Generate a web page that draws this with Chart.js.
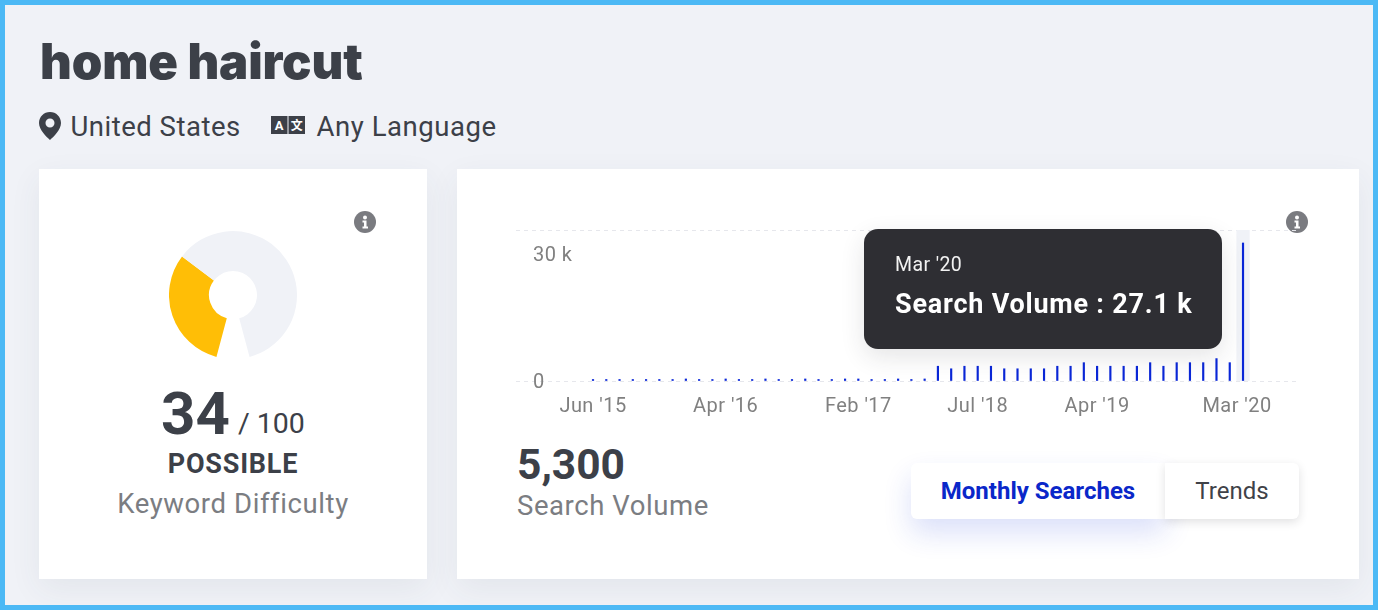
<!DOCTYPE html>
<html>
<head>
<meta charset="utf-8">
<title>home haircut</title>
<script src="https://cdn.jsdelivr.net/npm/chart.js@4"></script>
<style>
  * { box-sizing: border-box; }
  html, body { margin: 0; padding: 0; }
  body { width: 1378px; height: 610px; overflow: hidden; position: relative; background: #f0f2f7; font-family: Roboto, sans-serif; color: #3c4048; }
  .frame { position: absolute; inset: 0; border: 5px solid #4cb9f5; pointer-events: none; z-index: 9; }
  .abs { position: absolute; white-space: nowrap; line-height: 1; }
  .card { position: absolute; top: 169px; height: 410px; background: #fff; box-shadow: 0 10px 30px rgba(60,64,90,.07); }
  #tip { position: absolute; width: 358px; height: 120px; background: #2e2e33; border-radius: 14px; color: #fff; box-shadow: 0 8px 24px rgba(40,40,50,.12); z-index: 3; }
  #tipTitle { position: absolute; left: 31px; top: 26px; font-size: 19.500px; letter-spacing: .4px; line-height: 20px; color: #f2f2f2; }
  #tipBody { position: absolute; left: 31px; top: 60px; font-size: 27px; letter-spacing: .78px; line-height: 30px; font-weight: 700; white-space: nowrap; }
  .btn { position: absolute; top: 463px; height: 56px; background: #fff; text-align: center; line-height: 56px; font-size: 24px; }
</style>
</head>
<body>
<div class="frame"></div>

<div class="abs" style="left:40px;top:35px;font:900 49px/54px Inter,sans-serif;letter-spacing:-.15px;">home haircut</div>

<svg class="abs" style="left:39px;top:112px" width="22" height="28" viewBox="0 0 22 28"><path fill="#3c4048" fill-rule="evenodd" d="M11 0C4.9 0 0 4.9 0 11c0 6.5 7.4 13.8 11 17 3.6-3.2 11-10.500 11-17C22 4.900 17.100 0 11 0zm0 15.500a4.500 4.500 0 1 1 0-9 4.500 4.500 0 0 1 0 9z"/></svg>
<div class="abs" style="left:70.500px;top:113px;font-size:27.500px;letter-spacing:.5px;">United States</div>
<svg class="abs" style="left:271px;top:116px" width="34" height="18" viewBox="0 0 34 18"><rect width="16.500" height="18" fill="#3c4048"/><rect x="17.500" width="16.500" height="18" fill="#3c4048"/><text x="8.200" y="14" font-family="Roboto" font-weight="700" font-size="13" fill="#fff" text-anchor="middle">A</text><text x="25.700" y="14" font-family="Noto Sans CJK SC" font-weight="700" font-size="12" fill="#fff" text-anchor="middle">文</text></svg>
<div class="abs" style="left:316.500px;top:113px;font-size:27.500px;letter-spacing:.55px;">Any Language</div>

<div class="card" style="left:39px;width:388px;"></div>
<div class="card" style="left:457px;width:902px;"></div>

<svg class="abs" style="left:354px;top:211px" width="22" height="22" viewBox="0 0 22 22"><circle cx="11" cy="11" r="11" fill="#7a7b80"/><circle cx="11" cy="6.500" r="2" fill="#fff"/><path fill="#fff" d="M8.500 9.500h4v6h1.500v2H8.500v-2H10v-4H8.500z"/></svg>
<svg class="abs" style="left:1286px;top:211px" width="22" height="22" viewBox="0 0 22 22"><circle cx="11" cy="11" r="11" fill="#7a7b80"/><circle cx="11" cy="6.500" r="2" fill="#fff"/><path fill="#fff" d="M8.500 9.500h4v6h1.500v2H8.500v-2H10v-4H8.500z"/></svg>

<canvas id="difficultyChart" class="abs" style="left:169px;top:231px"></canvas>

<div class="abs" style="left:161px;top:384px;font-size:60px;font-weight:700;">34</div>
<div class="abs" style="left:238px;top:410px;font-size:28.500px;">/ 100</div>
<div class="abs" style="left:39px;width:388px;text-align:center;top:451px;font-size:27px;font-weight:700;letter-spacing:.78px;">POSSIBLE</div>
<div class="abs" style="left:39px;width:388px;text-align:center;top:490px;font-size:27.500px;letter-spacing:.6px;color:#7b7d82;">Keyword Difficulty</div>

<canvas id="volumeChart" class="abs" style="left:516px;top:225px"></canvas>
<div id="tip"><div id="tipTitle"></div><div id="tipBody"></div></div>

<div class="abs" style="left:517px;top:444px;font-size:42.500px;font-weight:700;">5,300</div>
<div class="abs" style="left:517px;top:492px;font-size:27.500px;letter-spacing:.58px;color:#7b7d82;">Search Volume</div>

<div class="btn" style="left:911px;width:254px;border-radius:6px 0 0 6px;font-weight:700;color:#0a27c9;box-shadow:0 14px 28px rgba(30,60,220,.16);z-index:1;">Monthly Searches</div>
<div class="btn" style="left:1165px;width:134px;border-radius:0 6px 6px 0;color:#3f4248;box-shadow:0 3px 10px rgba(40,40,50,.14);z-index:2;">Trends</div>

<script>
const categories = [
  "Jun '15","Jul '15","Aug '15","Sep '15","Oct '15","Nov '15","Dec '15","Jan '16","Feb '16","Mar '16",
  "Apr '16","May '16","Jun '16","Jul '16","Aug '16","Sep '16","Oct '16","Nov '16","Dec '16","Jan '17",
  "Feb '17","Mar '17","Apr '17","May '17","Jun '17","Jul '17","Apr '18","May '18","Jun '18","Jul '18",
  "Aug '18","Sep '18","Oct '18","Nov '18","Dec '18","Jan '19","Feb '19","Mar '19","Apr '19","May '19",
  "Jun '19","Jul '19","Aug '19","Sep '19","Oct '19","Nov '19","Dec '19","Jan '20","Feb '20","Mar '20"
];
const searchVolume = [
  300,300,300,300,300,300,300,400,300,300,
  400,300,300,400,300,300,400,300,300,400,
  400,300,300,400,300,400,2900,2400,2900,2900,
  2900,2400,2400,2400,2400,2900,2900,3600,2900,2900,
  2900,2900,3600,2900,3600,3600,3600,4400,3600,27100
];
const shownTicks = [0, 10, 20, 29, 38, 49];
const yTicks = [0, 29650];
const yTickLabels = ["0", "30 k"];
const difficulty = [34, 66];

const activeIndex = searchVolume.length - 1;

// grey band behind the hovered month, and the labels that sit off their tick
const hoverBand = {
  id: "hoverBand",
  beforeDatasetsDraw(chart) {
    const { ctx, chartArea, scales } = chart;
    const step = scales.x.getPixelForValue(1) - scales.x.getPixelForValue(0);
    const x = scales.x.getPixelForValue(activeIndex);
    ctx.save();
    ctx.fillStyle = "#f0f2f7";
    ctx.fillRect(x - step / 2, chartArea.top, step, chartArea.height);
    ctx.restore();
  }
};
const nudgeLabels = {
  id: "nudgeLabels",
  beforeDraw(chart) {
    chart.ctx.letterSpacing = "0.45px";
    const xItems = chart.scales.x.getLabelItems();
    const yItems = chart.scales.y.getLabelItems();
    const lastX = xItems[xItems.length - 1];
    if (!lastX.nudged) {
      lastX.nudged = true;
      lastX.options.translation[0] -= 6;
    }
    yItems.forEach((item, i) => {
      if (!item.nudged) {
        item.nudged = true;
        item.options.translation[1] += i === yItems.length - 1 ? 26 : 2;
      }
    });
  }
};

const volumeCanvas = document.getElementById("volumeChart");
volumeCanvas.width = 783;
volumeCanvas.height = 198;

const volumeChart = new Chart(volumeCanvas, {
  type: "bar",
  data: {
    datasets: [{
      label: "Search Volume",
      data: searchVolume.map((v, i) => ({ x: i, y: v })),
      backgroundColor: "#0a27d8",
      barThickness: 1.5
    }]
  },
  plugins: [hoverBand, nudgeLabels],
  options: {
    responsive: false,
    animation: false,
    events: [],
    layout: { padding: { top: 5, left: 0, right: 0, bottom: 0 } },
    plugins: {
      legend: { display: false },
      tooltip: {
        enabled: false,
        external({ chart, tooltip }) {
          const tip = document.getElementById("tip");
          document.getElementById("tipTitle").textContent = tooltip.title[0];
          document.getElementById("tipBody").textContent = tooltip.body[0].lines[0];
          tip.style.left = chart.canvas.offsetLeft + tooltip.caretX - 379 + "px";
          tip.style.top = chart.canvas.offsetTop + chart.chartArea.top - 1 + "px";
        },
        callbacks: {
          title: items => categories[items[0].dataIndex],
          label: item => item.dataset.label + " : " + item.parsed.y / 1000 + " k"
        }
      }
    },
    scales: {
      x: {
        type: "linear",
        offset: false,
        min: -5.805,
        max: 53.22,
        afterBuildTicks(scale) { scale.ticks = shownTicks.map(value => ({ value })); },
        afterFit(scale) { scale.height = 42; scale.paddingLeft = 0; scale.paddingRight = 0; },
        grid: { display: false, drawTicks: false },
        border: { display: false },
        ticks: {
          autoSkip: false,
          maxRotation: 0,
          padding: 13.6,
          color: "#808080",
          font: { family: "Roboto", size: 20 },
          callback: value => categories[value]
        }
      },
      y: {
        min: 0,
        max: yTicks[1],
        afterBuildTicks(scale) { scale.ticks = yTicks.map(value => ({ value })); },
        afterFit(scale) { scale.width = 0; scale.paddingTop = 0; scale.paddingBottom = 0; },
        grid: { color: "#e6e7ec", drawTicks: false },
        border: { display: false, dash: [4, 4] },
        ticks: {
          mirror: true,
          padding: 17,
          color: "#808080",
          font: { family: "Roboto", size: 20 },
          callback: value => yTickLabels[yTicks.indexOf(value)]
        }
      }
    }
  }
});
volumeChart.tooltip.setActiveElements([{ datasetIndex: 0, index: activeIndex }], { x: 0, y: 0 });
volumeChart.update("none");

const difficultyCanvas = document.getElementById("difficultyChart");
difficultyCanvas.width = 128;
difficultyCanvas.height = 126;

new Chart(difficultyCanvas, {
  type: "doughnut",
  data: {
    labels: ["Difficulty", "Remaining"],
    datasets: [{
      data: difficulty,
      backgroundColor: ["#ffbe06", "#f0f2f7"],
      borderWidth: 0
    }]
  },
  options: {
    responsive: false,
    animation: false,
    events: [],
    rotation: 195,
    circumference: 330,
    cutout: "37.5%",
    plugins: { legend: { display: false }, tooltip: { enabled: false } }
  }
});
</script>
</body>
</html>
